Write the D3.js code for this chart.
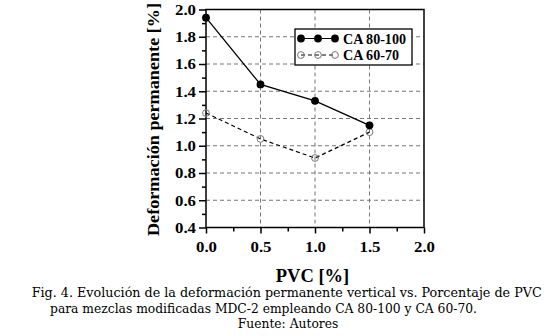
<!DOCTYPE html>
<html>
<head>
<meta charset="utf-8">
<script src="https://cdn.jsdelivr.net/npm/d3@7"></script>
<style>
  body { margin: 0; background: #fff; }
  svg { display: block; }
</style>
</head>
<body>
<div id="chart"></div>
<script>
// values
const pvc = [0.0, 0.5, 1.0, 1.5];
const ca80100 = [1.94, 1.45, 1.33, 1.15];
const ca6070 = [1.24, 1.05, 0.91, 1.10];
const seriesNames = ['CA 80-100', 'CA 60-70'];
const xTicks = [0.0, 0.5, 1.0, 1.5, 2.0];
const yTicks = [0.4, 0.6, 0.8, 1.0, 1.2, 1.4, 1.6, 1.8, 2.0];
const captionLines = [
  'Fig. 4. Evolución de la deformación permanente vertical vs. Porcentaje de PVC',
  'para mezclas modificadas MDC-2 empleando CA 80-100 y CA 60-70.',
  'Fuente: Autores'
];

const width = 550, height = 336;
const plotLeft = 206, plotRight = 424, plotTop = 9.5, plotBottom = 227.5;
const serif = '"Liberation Serif", "Times New Roman", serif';

const svg = d3.select('#chart').append('svg')
  .attr('width', width)
  .attr('height', height);

const x = d3.scaleLinear().domain([0, 2]).range([plotLeft, plotRight]);
const y = d3.scaleLinear().domain([0.4, 2.0]).range([plotBottom, plotTop]);

// dashed grid
const grid = svg.append('g')
  .attr('stroke', '#777')
  .attr('stroke-width', 1)
  .attr('stroke-dasharray', '4,3');
grid.selectAll('line.gx')
  .data(xTicks.filter(d => d > 0 && d < 2))
  .join('line')
  .attr('class', 'gx')
  .attr('x1', d => x(d)).attr('x2', d => x(d))
  .attr('y1', plotTop).attr('y2', plotBottom);
grid.selectAll('line.gy')
  .data(yTicks.filter(d => d > 0.4 && d < 2.0))
  .join('line')
  .attr('class', 'gy')
  .attr('x1', plotLeft).attr('x2', plotRight)
  .attr('y1', d => y(d)).attr('y2', d => y(d));

// axes
const xAxis = svg.append('g')
  .attr('transform', `translate(0,${plotBottom})`)
  .call(d3.axisBottom(x).tickValues(xTicks).tickFormat(d3.format('.1f')).tickSize(6).tickPadding(8));
const xMinor = svg.append('g')
  .attr('transform', `translate(0,${plotBottom})`)
  .call(d3.axisBottom(x).tickValues([0.25, 0.75, 1.25, 1.75]).tickFormat('').tickSize(4));
const yAxis = svg.append('g')
  .attr('transform', `translate(${plotLeft},0)`)
  .call(d3.axisLeft(y).tickValues(yTicks).tickFormat(d3.format('.1f')).tickSize(7).tickPadding(3));
const yMinor = svg.append('g')
  .attr('transform', `translate(${plotLeft},0)`)
  .call(d3.axisLeft(y).tickValues([0.5, 0.7, 0.9, 1.1, 1.3, 1.5, 1.7, 1.9]).tickFormat('').tickSize(4));

[xAxis, xMinor, yAxis, yMinor].forEach(g => {
  g.select('.domain').remove();
  g.selectAll('line').attr('stroke', '#000').attr('stroke-width', 1.5);
  g.selectAll('text')
    .attr('fill', '#000')
    .attr('textLength', 21)
    .attr('lengthAdjust', 'spacingAndGlyphs')
    .style('font-family', serif)
    .style('font-weight', 'bold')
    .style('font-size', '15px');
});

// frame
svg.append('rect')
  .attr('x', plotLeft).attr('y', plotTop)
  .attr('width', plotRight - plotLeft).attr('height', plotBottom - plotTop)
  .attr('fill', 'none')
  .attr('stroke', '#000')
  .attr('stroke-width', 1.5);

// series
const line = d3.line().x(d => x(d[0])).y(d => y(d[1]));
const s1 = pvc.map((v, i) => [v, ca80100[i]]);
const s2 = pvc.map((v, i) => [v, ca6070[i]]);

svg.append('path')
  .datum(s2)
  .attr('d', line)
  .attr('fill', 'none')
  .attr('stroke', '#000')
  .attr('stroke-width', 1.2)
  .attr('stroke-dasharray', '4,3');
svg.selectAll('circle.s2')
  .data(s2)
  .join('circle')
  .attr('class', 's2')
  .attr('cx', d => x(d[0])).attr('cy', d => y(d[1]))
  .attr('r', 3.4)
  .attr('fill', 'none')
  .attr('stroke', '#777')
  .attr('stroke-width', 1);

svg.append('path')
  .datum(s1)
  .attr('d', line)
  .attr('fill', 'none')
  .attr('stroke', '#000')
  .attr('stroke-width', 1.3);
svg.selectAll('circle.s1')
  .data(s1)
  .join('circle')
  .attr('class', 's1')
  .attr('cx', d => x(d[0])).attr('cy', d => y(d[1]))
  .attr('r', 3.9)
  .attr('fill', '#000');

// legend
const legend = svg.append('g');
legend.append('rect')
  .attr('x', 295).attr('y', 29)
  .attr('width', 117).attr('height', 36)
  .attr('fill', '#fff')
  .attr('stroke', '#000')
  .attr('stroke-width', 1.3);
const rows = [38.5, 55];
const sampleX = [301, 318, 335];
const legendTextLen = [63, 56];
seriesNames.forEach((name, i) => {
  const g = legend.append('g');
  g.append('line')
    .attr('x1', sampleX[0]).attr('x2', sampleX[2])
    .attr('y1', rows[i]).attr('y2', rows[i])
    .attr('stroke', '#000')
    .attr('stroke-width', 1.2)
    .attr('stroke-dasharray', i === 0 ? null : '4,3');
  g.selectAll('circle')
    .data(sampleX)
    .join('circle')
    .attr('cx', d => d).attr('cy', rows[i])
    .attr('r', i === 0 ? 3.9 : 3.4)
    .attr('fill', i === 0 ? '#000' : 'none')
    .attr('stroke', i === 0 ? 'none' : '#777');
  g.append('text')
    .attr('x', 343).attr('y', rows[i])
    .attr('dy', '0.35em')
    .attr('textLength', legendTextLen[i])
    .attr('lengthAdjust', 'spacingAndGlyphs')
    .style('font-family', serif)
    .style('font-weight', 'bold')
    .style('font-size', '15px')
    .text(name);
});

// axis titles
svg.append('text')
  .attr('transform', `translate(158.5,119.5) rotate(-90)`)
  .attr('text-anchor', 'middle')
  .attr('textLength', 233)
  .attr('lengthAdjust', 'spacingAndGlyphs')
  .style('font-family', serif)
  .style('font-weight', 'bold')
  .style('font-size', '17px')
  .text('Deformación permanente [%]');
svg.append('text')
  .attr('x', 312.5)
  .attr('y', 282)
  .attr('text-anchor', 'middle')
  .style('font-family', serif)
  .style('font-weight', 'bold')
  .style('font-size', '18.5px')
  .text('PVC [%]');

// caption
const capX = [31.7, 50, 288];
const capY = [297, 312.5, 328];
const capLen = [510, 427, null];
svg.selectAll('text.cap')
  .data(captionLines)
  .join('text')
  .attr('class', 'cap')
  .attr('x', (d, i) => capX[i])
  .attr('y', (d, i) => capY[i])
  .attr('text-anchor', (d, i) => i === 2 ? 'middle' : 'start')
  .attr('textLength', (d, i) => capLen[i])
  .attr('lengthAdjust', 'spacingAndGlyphs')
  .style('font-family', '"DejaVu Serif", serif')
  .style('font-size', '12.3px')
  .text(d => d);
</script>
</body>
</html>
